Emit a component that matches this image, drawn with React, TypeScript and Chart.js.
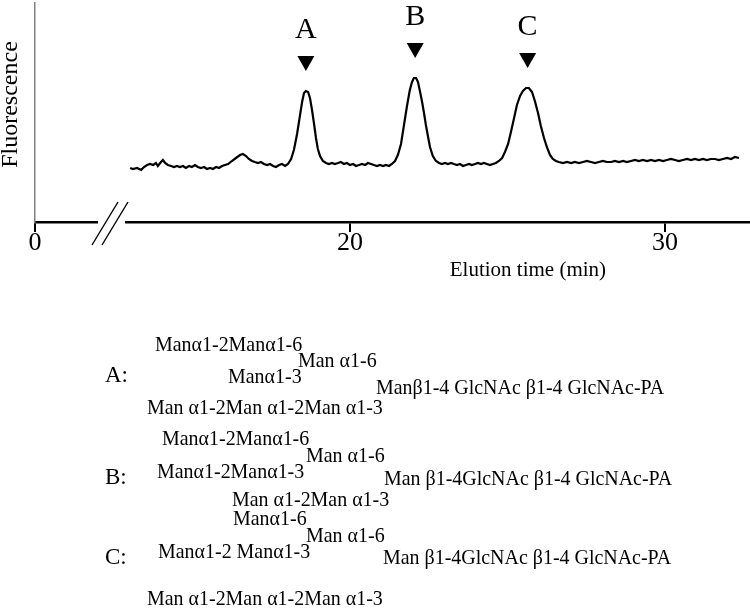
import React, { useEffect, useRef } from 'react';
import { Chart, registerables } from 'chart.js';

Chart.register(...registerables);

const FONT = '"Liberation Serif", "Times New Roman", serif';

// Chromatogram trace (elution time in min, fluorescence in arbitrary units)
const elutionTime = [
  13.02, 13.11, 13.24, 13.37, 13.46, 13.56, 13.65, 13.75, 13.84, 13.9, 14.0, 14.06, 14.13, 14.22, 14.32, 14.41,
  14.51, 14.6, 14.7, 14.79, 14.89, 14.98, 15.08, 15.17, 15.27, 15.37, 15.46, 15.56, 15.65, 15.75, 15.84, 15.94,
  16.03, 16.13, 16.25, 16.38, 16.51, 16.6, 16.7, 16.79, 16.89, 16.98, 17.08, 17.17, 17.27, 17.37, 17.46, 17.56,
  17.65, 17.75, 17.84, 17.94, 18.03, 18.13, 18.22, 18.32, 18.41, 18.48, 18.54, 18.6, 18.67, 18.73, 18.79, 18.86,
  18.92, 18.98, 19.05, 19.14, 19.24, 19.33, 19.43, 19.52, 19.62, 19.71, 19.81, 19.9, 20.0, 20.1, 20.19, 20.29,
  20.38, 20.48, 20.57, 20.67, 20.76, 20.86, 20.95, 21.05, 21.14, 21.24, 21.33, 21.43, 21.52, 21.62, 21.71, 21.81,
  21.9, 21.97, 22.03, 22.1, 22.16, 22.22, 22.29, 22.35, 22.41, 22.48, 22.54, 22.63, 22.73, 22.83, 22.92, 23.02,
  23.11, 23.21, 23.3, 23.4, 23.49, 23.59, 23.68, 23.78, 23.87, 23.97, 24.06, 24.16, 24.25, 24.35, 24.44, 24.54,
  24.63, 24.73, 24.83, 24.92, 25.02, 25.11, 25.21, 25.3, 25.4, 25.49, 25.59, 25.68, 25.78, 25.87, 25.97, 26.06,
  26.16, 26.25, 26.35, 26.44, 26.54, 26.63, 26.76, 26.89, 27.02, 27.14, 27.27, 27.4, 27.52, 27.65, 27.78, 27.9,
  28.03, 28.16, 28.29, 28.41, 28.54, 28.67, 28.79, 28.92, 29.05, 29.17, 29.3, 29.43, 29.56, 29.68, 29.81, 29.94,
  30.06, 30.19, 30.32, 30.44, 30.57, 30.7, 30.83, 30.95, 31.08, 31.21, 31.33, 31.46, 31.59, 31.71, 31.84, 31.97,
  32.1, 32.22, 32.35,
];

const fluorescence = [
  54, 53, 54, 52, 55, 57, 58, 57, 59, 56, 60, 62, 59, 57, 56, 55,
  56, 55, 56, 54, 56, 55, 57, 55, 54, 55, 53, 54, 53, 55, 54, 56,
  57, 58, 61, 64, 67, 68, 66, 63, 61, 60, 59, 60, 58, 57, 58, 56,
  55, 57, 58, 56, 58, 63, 72, 88, 106, 120, 129, 131, 130, 124, 113, 98,
  84, 73, 66, 61, 59, 58, 59, 58, 59, 60, 58, 59, 57, 58, 56, 57,
  58, 57, 59, 58, 57, 56, 57, 56, 57, 56, 58, 61, 67, 78, 96, 116,
  132, 140, 144, 144, 140, 131, 120, 109, 97, 85, 75, 66, 61, 59, 58, 59,
  58, 59, 58, 57, 58, 56, 57, 58, 57, 58, 59, 58, 59, 58, 57, 58,
  59, 61, 64, 70, 78, 90, 104, 117, 126, 131, 134, 134, 130, 121, 109, 96,
  84, 75, 67, 63, 61, 60, 59, 60, 59, 60, 59, 60, 61, 60, 59, 60,
  61, 60, 60, 61, 60, 61, 60, 61, 62, 61, 62, 61, 62, 61, 62, 61,
  62, 63, 62, 61, 62, 63, 62, 63, 62, 63, 62, 63, 63, 62, 63, 64,
  63, 65, 64,
];

const xTickValues = [10, 20, 30];
const xTickLabels = ['0', '20', '30'];
const xAxisTitle = 'Elution time (min)';
const yAxisTitle = 'Fluorescence';

const peakLabels = ['A', 'B', 'C'];
const peakTimes = [18.6, 22.07, 25.64];
const peakHeights = [131, 144, 134];

// axis break (min)
const axisBreak = [12.0, 12.86];

const structureA = [
  'Manα1-2Manα1-6',
  'Man α1-6',
  'Manα1-3',
  'Manβ1-4 GlcNAc β1-4 GlcNAc-PA',
  'Man α1-2Man α1-2Man α1-3',
];
const structureB = [
  'Manα1-2Manα1-6',
  'Man α1-6',
  'Manα1-2Manα1-3',
  'Man β1-4GlcNAc β1-4 GlcNAc-PA',
  'Man α1-2Man α1-3',
];
const structureC = [
  'Manα1-6',
  'Man α1-6',
  'Manα1-2 Manα1-3',
  'Man β1-4GlcNAc β1-4 GlcNAc-PA',
  'Man α1-2Man α1-2Man α1-3',
];

const decorPlugin = {
  id: 'decor',
  afterDraw(chart: any) {
    const { ctx, chartArea, scales } = chart;
    const xs = scales.x;
    const ys = scales.y;
    ctx.save();

    // axis break
    const gl = xs.getPixelForValue(axisBreak[0]);
    const gr = xs.getPixelForValue(axisBreak[1]);
    const by = chartArea.bottom;
    ctx.fillStyle = '#ffffff';
    ctx.fillRect(gl, by - 4, gr - gl, 8);
    ctx.strokeStyle = '#000000';
    ctx.lineWidth = 1.4;
    [-6, 4].forEach((d) => {
      ctx.beginPath();
      ctx.moveTo(gl + d, by + 23);
      ctx.lineTo(gl + d + 26, by - 20);
      ctx.stroke();
    });

    // peak markers
    ctx.fillStyle = '#000000';
    ctx.textAlign = 'center';
    ctx.textBaseline = 'alphabetic';
    ctx.font = `30px ${FONT}`;
    peakLabels.forEach((lab, i) => {
      const x = xs.getPixelForValue(peakTimes[i]);
      const yp = ys.getPixelForValue(peakHeights[i]);
      const tip = yp - 20;
      const top = tip - 15;
      ctx.beginPath();
      ctx.moveTo(x - 8.5, top);
      ctx.lineTo(x + 8.5, top);
      ctx.lineTo(x, tip);
      ctx.closePath();
      ctx.fill();
      ctx.fillText(lab, x, top - 18);
    });

    // y axis title
    ctx.save();
    ctx.translate(17, (chartArea.top + chartArea.bottom) / 2 - 8);
    ctx.rotate(-Math.PI / 2);
    ctx.font = `24px ${FONT}`;
    ctx.textAlign = 'center';
    ctx.textBaseline = 'alphabetic';
    ctx.fillText(yAxisTitle, 0, 0);
    ctx.restore();

    // x axis title
    ctx.font = `21px ${FONT}`;
    ctx.textAlign = 'center';
    ctx.textBaseline = 'middle';
    ctx.fillText(xAxisTitle, xs.getPixelForValue(25.65), by + 48);

    ctx.restore();
  },
};

const txt = (left: number, cy: number, size = 21, sx = 0.95): React.CSSProperties => ({
  position: 'absolute',
  left,
  top: cy - size * 0.55,
  fontSize: size,
  lineHeight: 1,
  whiteSpace: 'nowrap',
  fontFamily: FONT,
  color: '#000',
  transform: `scaleX(${sx})`,
  transformOrigin: '0 50%',
});

export default function App() {
  const canvasRef = useRef<HTMLCanvasElement | null>(null);

  useEffect(() => {
    if (!canvasRef.current) return;
    const chart = new Chart(canvasRef.current, {
      type: 'line',
      data: {
        datasets: [
          {
            data: elutionTime.map((t, i) => ({ x: t, y: fluorescence[i] })),
            borderColor: '#000000',
            borderWidth: 2.2,
            pointRadius: 0,
            tension: 0,
            fill: false,
          },
        ],
      },
      options: {
        animation: false,
        responsive: false,
        devicePixelRatio: 1,
        layout: { padding: { left: 35, right: 0, top: 3, bottom: 341 } },
        plugins: { legend: { display: false }, tooltip: { enabled: false } },
        scales: {
          x: {
            type: 'linear',
            min: 10,
            max: 32.7,
            afterBuildTicks: (s: any) => {
              s.ticks = xTickValues.map((v) => ({ value: v }));
            },
            afterFit: (s: any) => {
              s.height = 50;
            },
            ticks: {
              autoSkip: false,
              maxRotation: 0,
              padding: -4,
              color: '#000',
              font: { family: FONT, size: 26 },
              callback: (_v: any, i: number) => xTickLabels[i],
            },
            grid: {
              display: true,
              drawOnChartArea: false,
              drawTicks: true,
              tickLength: 10,
              color: '#000',
              lineWidth: 2,
            },
            border: { display: true, color: '#000', width: 2.5 },
          },
          y: {
            min: 0,
            max: 219,
            afterFit: (s: any) => {
              s.width = 0;
            },
            ticks: { display: false },
            grid: { display: false },
            border: { display: true, color: '#808080', width: 1.5 },
          },
        },
      },
      plugins: [decorPlugin],
    } as any);
    return () => chart.destroy();
  }, []);

  return (
    <div style={{ position: 'absolute', left: 0, top: 0, width: 750, height: 613, background: '#fff' }}>
      <canvas ref={canvasRef} width={750} height={613} style={{ position: 'absolute', left: 0, top: 0 }} />
      <div style={txt(105, 376, 23, 1)}>A:</div>
      <div style={txt(155, 346)}>{structureA[0]}</div>
      <div style={txt(298, 362)}>{structureA[1]}</div>
      <div style={txt(228, 378)}>{structureA[2]}</div>
      <div style={txt(376, 389)}>{structureA[3]}</div>
      <div style={txt(147, 409)}>{structureA[4]}</div>

      <div style={txt(105, 478, 23, 1)}>B:</div>
      <div style={txt(162, 440)}>{structureB[0]}</div>
      <div style={txt(306, 457)}>{structureB[1]}</div>
      <div style={txt(157, 473)}>{structureB[2]}</div>
      <div style={txt(384, 480)}>{structureB[3]}</div>
      <div style={txt(232, 501)}>{structureB[4]}</div>

      <div style={txt(105, 558, 23, 1)}>C:</div>
      <div style={txt(233, 520)}>{structureC[0]}</div>
      <div style={txt(306, 537)}>{structureC[1]}</div>
      <div style={txt(158, 553)}>{structureC[2]}</div>
      <div style={txt(383, 559)}>{structureC[3]}</div>
      <div style={txt(147, 600)}>{structureC[4]}</div>
    </div>
  );
}
